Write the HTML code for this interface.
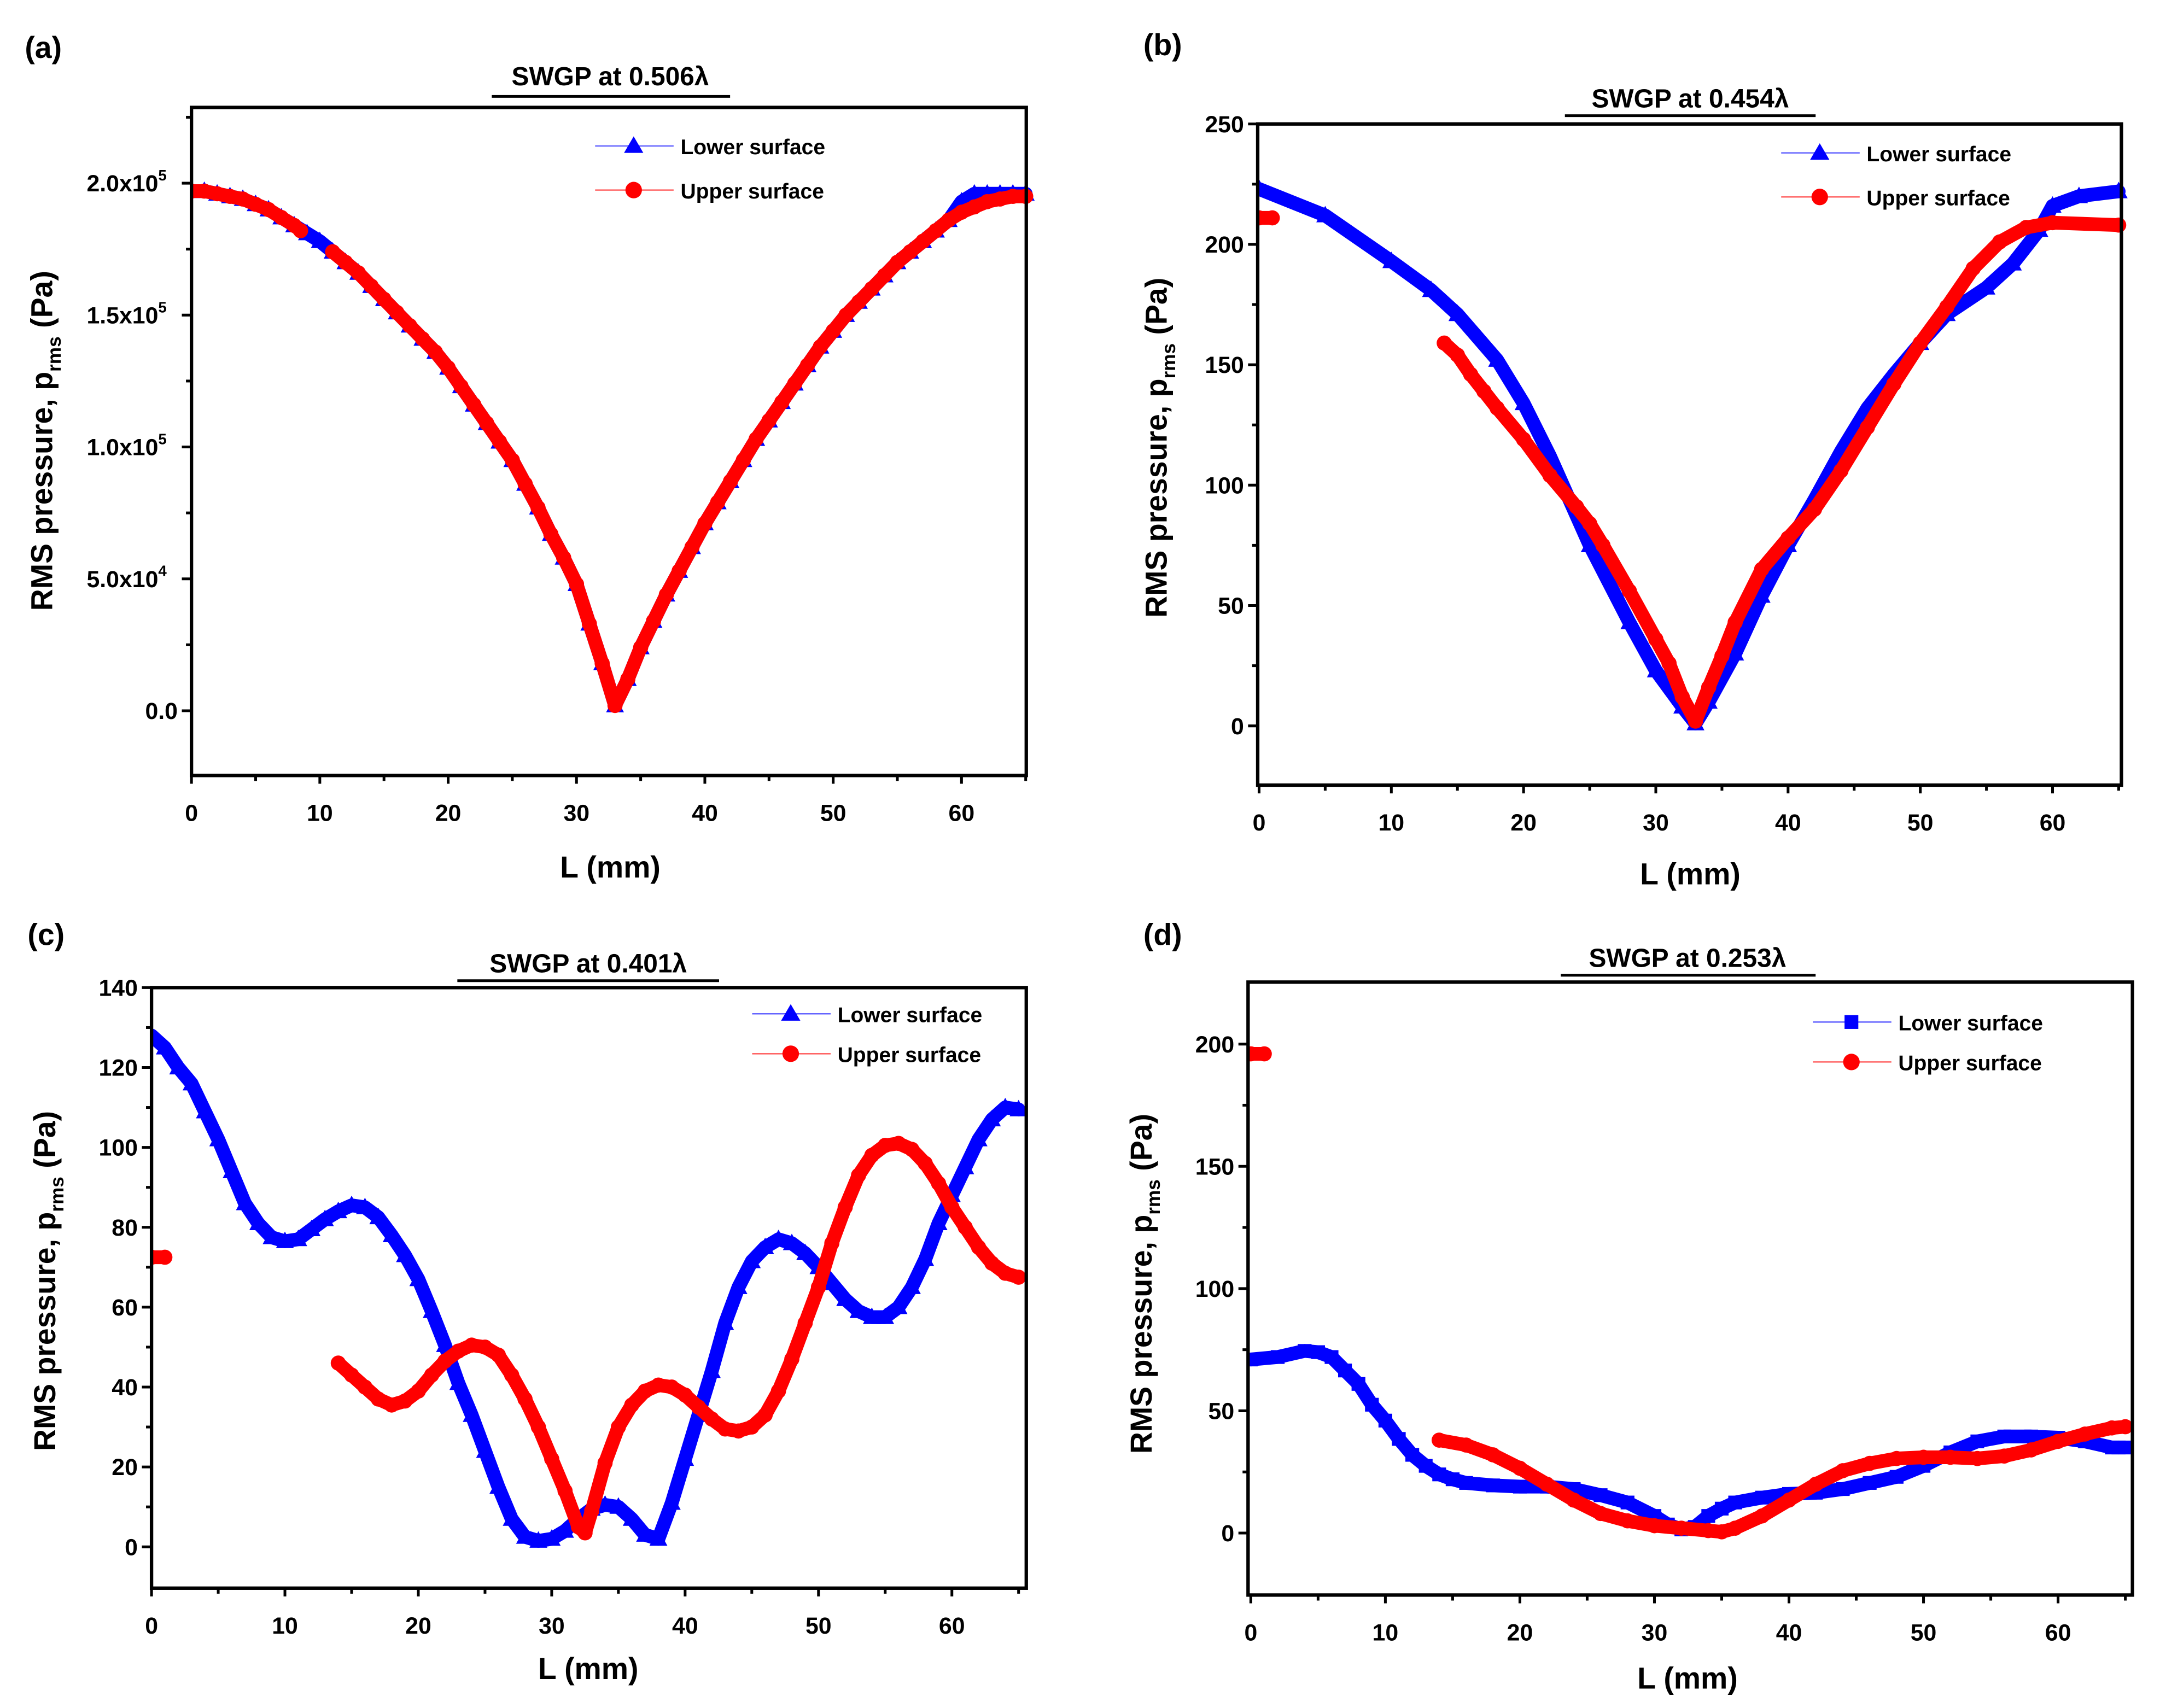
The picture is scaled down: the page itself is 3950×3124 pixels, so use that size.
<!DOCTYPE html>
<html><head><meta charset="utf-8">
<style>
html,body{margin:0;padding:0;background:#fff;}
svg{display:block;}
text{font-family:"Liberation Sans",sans-serif;font-weight:bold;fill:#000;}
</style></head>
<body>
<svg id="fig" width="3950" height="3124" viewBox="0 0 1568 1240" preserveAspectRatio="none" xmlns="http://www.w3.org/2000/svg"></svg>
<script>
// ---- data (x in mm) ----
const xsInt = [];
for (let i = 0; i <= 65; i++) xsInt.push(i);

const aLowerX = xsInt;
const aLowerY = [1.97,1.97,1.96,1.95,1.94,1.92,1.90,1.87,1.84,1.81,1.78,1.74,1.70,1.66,1.61,1.56,1.51,1.46,1.41,1.36,1.30,1.23,1.16,1.09,1.02,0.95,0.86,0.77,0.67,0.58,0.48,0.33,0.18,0.02,0.12,0.24,0.34,0.44,0.53,0.62,0.71,0.79,0.87,0.95,1.03,1.10,1.17,1.24,1.31,1.38,1.44,1.50,1.55,1.60,1.65,1.70,1.74,1.78,1.82,1.86,1.93,1.96,1.96,1.96,1.96,1.96];
const aUpperX = [0,1,2,3,4,5,6,7,8,8.5,11,12,13,14,15,16,17,18,19,20,21,22,23,24,25,26,27,28,29,30,31,32,33,34,35,36,37,38,39,40,41,42,43,44,45,46,47,48,49,50,51,52,53,54,55,56,57,58,59,60,61,62,63,64,65];
const aUpperY = [1.97,1.97,1.96,1.95,1.94,1.92,1.90,1.87,1.84,1.82,1.74,1.70,1.66,1.61,1.56,1.51,1.46,1.41,1.36,1.30,1.23,1.16,1.09,1.02,0.95,0.86,0.77,0.67,0.58,0.48,0.33,0.18,0.02,0.12,0.24,0.34,0.44,0.53,0.62,0.71,0.79,0.87,0.95,1.03,1.10,1.17,1.24,1.31,1.38,1.44,1.50,1.55,1.60,1.65,1.70,1.74,1.78,1.82,1.86,1.89,1.91,1.93,1.94,1.95,1.95];

const bLowerX = [0,5,10,13,15,18,20,22,25,28,30,32,33,34,36,38,40,42,44,46,48,50,52,55,57,59,60,62,65];
const bLowerY = [223,212,193,181,171,152,134,112,75,43,23,8,1,10,30,54,75,94,114,132,146,159,171,182,192,206,216,220,222];
const bUpperX = [0,1,14,15,16,17,18,20,22,24,25,26,28,30,31,32,33,34,35,36,38,40,42,44,46,48,50,52,54,56,58,60,65];
const bUpperY = [211,211,159,154,146,139,132,119,104,91,84,75,56,36,26,12,2,16,29,43,65,78,90,106,124,142,159,174,190,201,207,209,208];

const cLowerX = xsInt;
const cLowerY = [128,125,120,116,109,102,94,86,81,77.5,76.5,77,79.5,82,84,85.5,85,82.5,78,73,67,59,50.5,41,33,24,15,7,2.5,1.5,2,4,7,9.5,10.5,10,7,3,2,11,22,33,44,56,65,71.5,75,77,76,73.5,70,66,62,59,57.5,57.5,60,65,72,81,88,95,102,107,110,109.5];
const cUpperX = [0,1,14,15,16,17,18,19,20,21,22,23,24,25,26,27,28,29,30,31,32,32.5,33,34,35,36,37,38,39,40,41,42,43,44,45,46,47,48,49,50,51,52,53,54,55,56,57,58,59,60,61,62,63,64,65];
const cUpperY = [72.5,72.5,46,43,40,37,35.5,36.5,39,43,46.5,49,50.5,50,48,43,37,30,22,14,5,3.5,9,21,30,35.5,39,40.5,40,38,35,32,29.5,29,30,33,39,47,56,65,76,85,93,98,100.5,101,99.5,96,91,85,80,75,71,68.5,67.5];

const dLowerX = [0,2,4,5,6,7,8,9,10,11,12,13,14,15,16,18,20,22,24,26,28,30,31,32,33,34,35,36,38,40,42,44,46,48,50,52,54,56,58,60,62,64,65];
const dLowerY = [71,72,74.5,74,72,66.5,61,52.5,46,38.5,32,27.5,24,22,20.5,19.5,19,19,18,15.5,12.5,7,3.5,1.5,2.5,7,10,12.5,14.5,16,16.5,18,20.5,23,27.5,33,37.5,39.5,39.5,39,37.5,35,35];
const dUpperX = [0,1,14,16,18,20,22,24,26,28,30,32,34,35,36,38,40,42,44,46,48,50,52,54,56,58,60,62,64,65];
const dUpperY = [196,196,38,36,32,26.5,20,13.5,8,5,3,2,1,0.5,2,7,13.5,20,25.5,28.5,30.5,31,31,30.5,31.5,34,37.5,40.5,43,43.5];

const xTicks = [0,10,20,30,40,50,60];
const aYTicks = [0,0.5,1.0,1.5,2.0];
const aYLabels = [["0.0",""],["5.0x10","4"],["1.0x10","5"],["1.5x10","5"],["2.0x10","5"]];
const bYTicks = [0,50,100,150,200,250];
const cYTicks = [0,20,40,60,80,100,120,140];
const dYTicks = [0,50,100,150,200];

const SVGNS = "http://www.w3.org/2000/svg";
const fig = document.getElementById('fig');
function mk(tag, attrs, parent){
  const e = document.createElementNS(SVGNS, tag);
  for (const k in attrs) e.setAttribute(k, attrs[k]);
  (parent||fig).appendChild(e);
  return e;
}

function panel(cfg){
  const g = mk('g', {});
  
  
  const sx = (cfg.x60 - cfg.x0) / 60;
  const sy = (cfg.yv1px - cfg.yv0px) / (cfg.yv1 - cfg.yv0);
  const X = v => cfg.x0 + v * sx;
  const Y = v => cfg.yv0px + (v - cfg.yv0) * sy;
  const b = cfg.box;

  const lt = mk('text', {x: cfg.letter[0], y: cfg.letter[1], 'font-size': 22}, g);
  lt.textContent = '(' + cfg.id + ')';
  
  
  const tt = mk('text', {x: cfg.title[0], y: cfg.title[1], 'font-size': 19, 'text-anchor': 'middle', 'font-family': '"Liberation Sans Narrow","Liberation Sans",sans-serif'}, g);
  tt.textContent = cfg.titleText;
  
  
  const ul = mk('line', {x1: cfg.ul[0], x2: cfg.ul[1], y1: cfg.ul[2], y2: cfg.ul[2], stroke: '#000', 'stroke-width': 2}, g);
  
  

  const clipId = 'clip' + cfg.id;
  const cp = mk('clipPath', {id: clipId}, g);
  mk('rect', {x: b[0], y: b[2] - 4, width: b[1] - b[0] + 8, height: b[3] - b[2] + 4}, cp);
  cfg.series.forEach(s => {
    const sg = mk('g', {'clip-path': 'url(#' + clipId + ')'}, g);
    
    
    const gapLim = s.gap || 6;
    let seg = [];
    const segs = [];
    for (let i = 0; i < s.x.length; i++) {
      if (i > 0 && s.x[i] - s.x[i-1] > gapLim) { segs.push(seg); seg = []; }
      seg.push([X(s.x[i]), Y(s.y[i])]);
    }
    segs.push(seg);
    segs.forEach(sp => {
      const pl = mk('polyline', {points: sp.map(p => p.join(',')).join(' '), fill: 'none', stroke: s.color, 'stroke-width': 10, 'stroke-linejoin': 'round', 'stroke-linecap': 'round'}, sg);
      
      
    });
    for (let i = 0; i < s.x.length; i++) {
      const px = X(s.x[i]), py = Y(s.y[i]);
      let m;
      if (s.marker === 'tri') m = mk('polygon', {points: `${px},${py-7} ${px-6.5},${py+5} ${px+6.5},${py+5}`, fill: s.color}, sg);
      else if (s.marker === 'sq') m = mk('rect', {x: px-5, y: py-5, width: 10, height: 10, fill: s.color}, sg);
      else m = mk('circle', {cx: px, cy: py, r: 5.5, fill: s.color}, sg);
      
      
    }
  });

  const fr = mk('rect', {x: b[0], y: b[2], width: b[1]-b[0], height: b[3]-b[2], fill: 'none', stroke: '#000', 'stroke-width': 2.5}, g);
  
  

  for (let v = 0; v <= 65; v += 5) {
    const major = v % 10 === 0;
    mk('line', {x1: X(v), x2: X(v), y1: b[3], y2: b[3] + (major ? 6 : 4), stroke: '#000', 'stroke-width': 2}, g);
  }
  xTicks.forEach(v => {
    const t = mk('text', {x: X(v), y: b[3] + 33, 'font-size': 17, 'text-anchor': 'middle'}, g);
    t.textContent = v;
    
    
  });
  const yt = cfg.yTicks;
  const step = yt[1] - yt[0];
  for (let i = 0; i < yt.length; i++) {
    mk('line', {x1: b[0] - 7, x2: b[0], y1: Y(yt[i]), y2: Y(yt[i]), stroke: '#000', 'stroke-width': 2}, g);
    const mv = yt[i] + step / 2;
    if (Y(mv) > b[2] + 2) mk('line', {x1: b[0] - 4, x2: b[0], y1: Y(mv), y2: Y(mv), stroke: '#000', 'stroke-width': 2}, g);
    const t = mk('text', {x: b[0] - 10, y: Y(yt[i]) + 6, 'font-size': 17, 'text-anchor': 'end'}, g);
    if (cfg.yLabels) {
      const L = cfg.yLabels[i];
      t.textContent = L[0];
      if (L[1]) {
        t.setAttribute('x', b[0] - 18);
        const sp = mk('tspan', {dy: -8, 'font-size': 11}, t);
        sp.textContent = L[1];
      }
    } else t.textContent = yt[i];
    
    
  }
  const xl = mk('text', {x: cfg.xlab[0], y: cfg.xlab[1], 'font-size': 22, 'text-anchor': 'middle'}, g);
  xl.textContent = 'L (mm)';
  
  
  const yl = mk('text', {x: 0, y: 0, 'font-size': 22, 'text-anchor': 'middle', transform: `translate(${cfg.ylab[0]},${cfg.ylab[1]}) rotate(-90)`}, g);
  
  
  const t1 = mk('tspan', {}, yl); t1.textContent = 'RMS pressure, p';
  const t2 = mk('tspan', {dy: 6, 'font-size': 14}, yl); t2.textContent = 'rms';
  const t3 = mk('tspan', {dy: -6}, yl); t3.textContent = ' (Pa)';

  const lg = mk('g', {}, g);
  
  
  cfg.series.forEach((s, i) => {
    const ly = cfg.leg[2] + i * cfg.leg[3];
    mk('line', {x1: cfg.leg[0], x2: cfg.leg[0] + 57, y1: ly, y2: ly, stroke: s.color, 'stroke-width': 1, opacity: 0.6}, lg);
    const cx = cfg.leg[0] + 28;
    if (s.marker === 'tri') mk('polygon', {points: `${cx},${ly-7} ${cx-7},${ly+5} ${cx+7},${ly+5}`, fill: s.color}, lg);
    else if (s.marker === 'sq') mk('rect', {x: cx-5, y: ly-5, width: 10, height: 10, fill: s.color}, lg);
    else mk('circle', {cx: cx, cy: ly, r: 6, fill: s.color}, lg);
    const t = mk('text', {x: cfg.leg[0] + 62, y: ly + 6, 'font-size': 15.5, 'font-family': '"Liberation Sans Narrow","Liberation Sans",sans-serif'}, lg);
    t.textContent = s.label;
    
    
  });
}

panel({id: 'a', x0: 139, x60: 698, yv0: 0, yv0px: 516, yv1: 2, yv1px: 133, box: [139,745,78,563],
  letter: [18,42], title: [443,62], titleText: 'SWGP at 0.506λ', ul: [357,530,70],
  yTicks: aYTicks, yLabels: aYLabels, xlab: [443,637], ylab: [38,320], leg: [432,0,106,32],
  series: [
    {name: 'series-lower-surface', label: 'Lower surface', color: '#0000ff', marker: 'tri', x: aLowerX, y: aLowerY},
    {name: 'series-upper-surface', label: 'Upper surface', color: '#ff0000', marker: 'circ', x: aUpperX, y: aUpperY, gap: 2}]});

panel({id: 'b', x0: 914, x60: 1490, yv0: 0, yv0px: 527, yv1: 250, yv1px: 90, box: [913,1540,90,570],
  letter: [830,40], title: [1227,78], titleText: 'SWGP at 0.454λ', ul: [1136,1318,84],
  yTicks: bYTicks, xlab: [1227,642], ylab: [847,325], leg: [1293,0,111,32],
  series: [
    {name: 'series-lower-surface', label: 'Lower surface', color: '#0000ff', marker: 'tri', x: bLowerX, y: bLowerY},
    {name: 'series-upper-surface', label: 'Upper surface', color: '#ff0000', marker: 'circ', x: bUpperX, y: bUpperY}]});

panel({id: 'c', x0: 110, x60: 691, yv0: 0, yv0px: 1123, yv1: 140, yv1px: 717, box: [110,745,717,1153],
  letter: [20,686], title: [427,706], titleText: 'SWGP at 0.401λ', ul: [332,522,712],
  yTicks: cYTicks, xlab: [427,1219], ylab: [40,930], leg: [546,0,736,29],
  series: [
    {name: 'series-lower-surface', label: 'Lower surface', color: '#0000ff', marker: 'tri', x: cLowerX, y: cLowerY},
    {name: 'series-upper-surface', label: 'Upper surface', color: '#ff0000', marker: 'circ', x: cUpperX, y: cUpperY}]});

panel({id: 'd', x0: 908, x60: 1494, yv0: 0, yv0px: 1113, yv1: 200, yv1px: 758, box: [906,1548,713,1158],
  letter: [830,686], title: [1225,702], titleText: 'SWGP at 0.253λ', ul: [1133,1318,708],
  yTicks: dYTicks, xlab: [1225,1226], ylab: [836,932], leg: [1316,0,742,29],
  series: [
    {name: 'series-lower-surface', label: 'Lower surface', color: '#0000ff', marker: 'sq', x: dLowerX, y: dLowerY},
    {name: 'series-upper-surface', label: 'Upper surface', color: '#ff0000', marker: 'circ', x: dUpperX, y: dUpperY}]});
</script>
</body></html>
